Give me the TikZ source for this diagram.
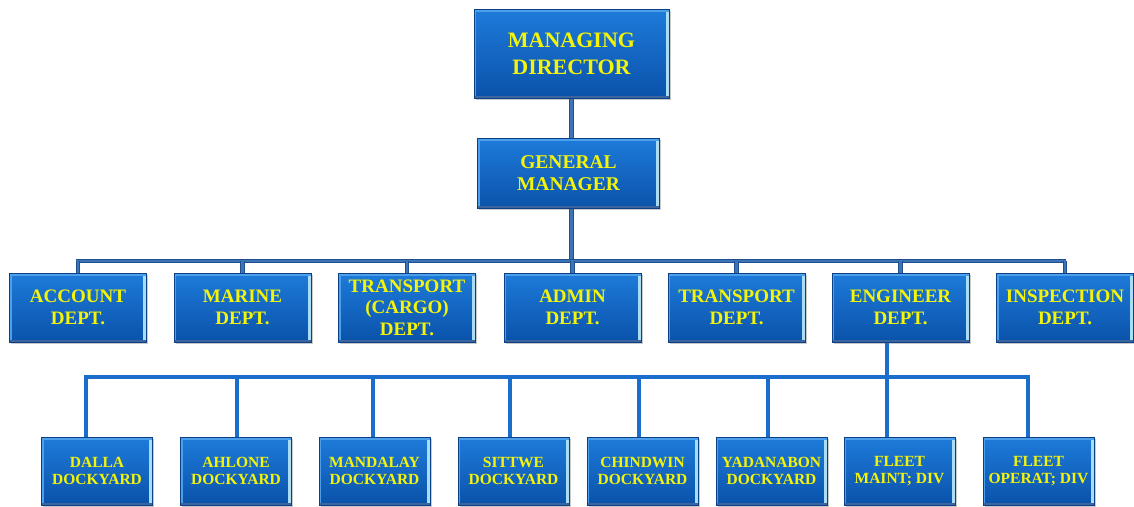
\documentclass[tikz,border=0pt]{standalone}
\usepackage{fontspec}
\setmainfont{Liberation Serif}
\usetikzlibrary{shadows,backgrounds}

\definecolor{boxtop}{HTML}{1E7BDA}
\definecolor{boxbot}{HTML}{0A52AA}
\definecolor{boxedge}{HTML}{0B3F86}
\definecolor{bevel}{HTML}{A8DDF6}
\definecolor{bevelhi}{HTML}{4C9FEA}
\definecolor{labelyellow}{HTML}{F4F40A}
\definecolor{trunkdark}{HTML}{1F4F8C}
\definecolor{trunkcore}{HTML}{3D74B8}
\definecolor{branchblue}{HTML}{1A6DCA}

\tikzset{
  orgbox/.style={
    rectangle, inner sep=0pt, outer sep=0pt,
    top color=boxtop, bottom color=boxbot, draw=boxedge, line width=0.6pt,
    drop shadow={shadow xshift=1.5pt, shadow yshift=-2pt, opacity=0.35, fill=black!60},
    text=labelyellow, align=center, font=\bfseries,
    path picture={
      \fill[bevel] ([xshift=-3.5pt]path picture bounding box.north east)
        rectangle (path picture bounding box.south east);
      \fill[bevelhi] (path picture bounding box.north west)
        rectangle ([yshift=-2.5pt]path picture bounding box.north east);
      \fill[bevelhi] (path picture bounding box.north west)
        rectangle ([xshift=2pt]path picture bounding box.south west);
      \fill[boxedge!80] (path picture bounding box.south west)
        rectangle ([yshift=2pt]path picture bounding box.south east);
    }},
  topbox/.style={orgbox, minimum width=195pt, minimum height=89pt,
    font=\bfseries\fontsize{22}{27}\selectfont},
  gmbox/.style={orgbox, minimum width=182pt, minimum height=70pt,
    font=\bfseries\fontsize{19.5}{22.5}\selectfont},
  deptbox/.style={orgbox, minimum width=137pt, minimum height=69pt,
    font=\bfseries\fontsize{19}{21.5}\selectfont},
  yardbox/.style={orgbox, minimum width=111pt, minimum height=68pt,
    font=\bfseries\fontsize{15.5}{16.5}\selectfont},
  trunk/.style={draw=trunkdark, double=trunkcore, double distance=2.2pt,
    line width=1.3pt},
  branch/.style={draw=branchblue, line width=4.2pt},
}

\begin{document}
\begin{tikzpicture}[x=1pt, y=-1pt]
\useasboundingbox (0,0) rectangle (1134,506);

% top of the chart
\node[topbox] (md) at (571.5,53.5) {MANAGING\\DIRECTOR};
\node[gmbox]  (gm) at (568.5,173) {GENERAL\\MANAGER};

% departments
\node[deptbox] (acc)   at (78,307.5)    {ACCOUNT\\DEPT.};
\node[deptbox] (mar)   at (242.5,307.5) {MARINE\\DEPT.};
\node[deptbox] (cargo) at (407,307.5)   {TRANSPORT\\(CARGO)\\DEPT.};
\node[deptbox] (adm)   at (572.5,307.5) {ADMIN\\DEPT.};
\node[deptbox] (trn)   at (736.5,307.5) {TRANSPORT\\DEPT.};
\node[deptbox] (eng)   at (900.5,307.5) {ENGINEER\\DEPT.};
\node[deptbox] (insp)  at (1065,307.5)  {INSPECTION\\DEPT.};

% dockyards and fleet divisions
\node[yardbox] (dalla)  at (97,471)     {DALLA\\DOCKYARD};
\node[yardbox] (ahlone) at (236,471)    {AHLONE\\DOCKYARD};
\node[yardbox] (mdy)    at (374.5,471)  {MANDALAY\\DOCKYARD};
\node[yardbox] (sittwe) at (513.5,471)  {SITTWE\\DOCKYARD};
\node[yardbox] (chin)   at (642.5,471)  {CHINDWIN\\DOCKYARD};
\node[yardbox] (yada)   at (771.5,471)  {YADANABON\\DOCKYARD};
\node[yardbox] (fmaint) at (899.5,471)  {FLEET\\MAINT; DIV};
\node[yardbox] (fop)    at (1038.5,471) {FLEET\\OPERAT; DIV};

% bus lines
\coordinate (deptL) at (76,261);
\coordinate (deptR) at (1066,261);
\coordinate (yardL) at (84,377);
\coordinate (yardR) at (1030,377);

\begin{scope}[on background layer]
  % managing director through general manager to the department bus
  \draw[trunk] (md.south) -- (md.south |- deptL);
  \draw[trunk] (deptL) -- (deptR);
  \foreach \n in {acc,mar,cargo,adm,trn,eng,insp}
    \draw[trunk] (\n.north) -- (\n.north |- deptL);

  % engineer department down to its units
  \draw[branch] (yardL) -- (yardR);
  \draw[branch] ([xshift=-13.5pt]eng.south) -- ([xshift=-12.5pt]fmaint.north);
  \foreach \n/\dx in {dalla/-11,ahlone/1,mdy/-1.5,sittwe/-3.5,chin/-3.5,yada/-3.5,fop/-10.5}
    \draw[branch] ([xshift=\dx pt]\n.north) -- ([xshift=\dx pt]\n.north |- yardL);
\end{scope}
\end{tikzpicture}
\end{document}
